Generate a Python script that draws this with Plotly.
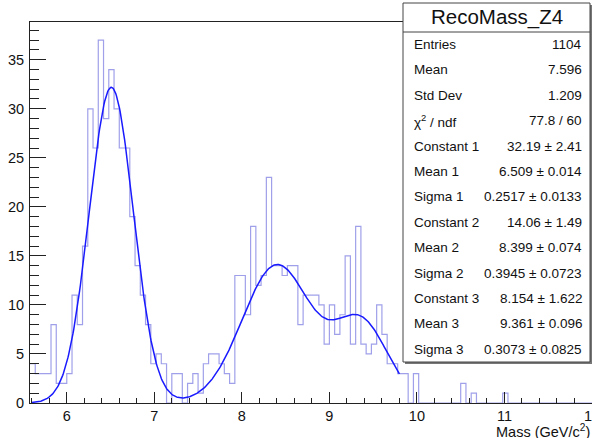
import numpy as np
import plotly.graph_objects as go

# Histogram: 0.06 GeV bins, shown from 5.58 to 12
bin_low = 5.58
bin_width = 0.06
counts = [
    4, 3, 3, 3, 8, 2, 2, 3, 11, 8,
    16, 30, 26, 37, 29, 34, 30, 26, 26, 19,
    14, 11, 8, 4, 5, 4, 0, 3, 3, 0,
    2, 3, 1, 4, 5, 5, 4, 3, 2, 13,
    13, 9, 18, 12, 13, 23, 14, 14, 13, 14,
    14, 8, 11, 11, 11, 10, 6, 10, 7, 9,
    15, 6, 18, 6, 5, 6, 10, 7, 4, 4,
    3, 3, 0, 3, 0, 0, 0, 0, 0, 0,
    0, 0, 2, 0, 1, 0, 0, 0, 0, 0,
    1, 0, 0, 0, 0, 0, 0, 0, 0, 0,
    0, 0, 0, 0, 0, 0, 0,
]

# Triple-Gaussian fit parameters (constant, mean, sigma)
g_const = [32.19, 14.06, 8.154]
g_mean = [6.509, 8.399, 9.361]
g_sigma = [0.2517, 0.3945, 0.3073]
fit_range = [5.6, 9.8]

stats_title = "RecoMass_Z4"
stats_labels = ["Entries", "Mean", "Std Dev", "χ<sup>2</sup> / ndf",
                "Constant 1", "Mean 1", "Sigma 1",
                "Constant 2", "Mean 2", "Sigma 2",
                "Constant 3", "Mean 3", "Sigma 3"]
stats_values = ["1104", "7.596", "1.209", "77.8 / 60",
                "32.19 ± 2.41", "6.509 ± 0.014", "0.2517 ± 0.0133",
                "14.06 ± 1.49", "8.399 ± 0.074", "0.3945 ± 0.0723",
                "8.154 ± 1.622", "9.361 ± 0.096", "0.3073 ± 0.0825"]

counts = np.array(counts, dtype=float)
edges = bin_low + bin_width * np.arange(len(counts) + 1)
step_x = np.append(edges[:-1], edges[-1])
step_y = np.append(counts, counts[-1])

fx = np.linspace(fit_range[0], fit_range[1], 500)
fy = np.zeros_like(fx)
for c, m, s in zip(g_const, g_mean, g_sigma):
    fy += c * np.exp(-0.5 * ((fx - m) / s) ** 2)

W, H = 592, 438
L, R, T, B = 30, 0, 22, 35
pw, ph = W - L - R, H - T - B
x_range = [edges[0], 12.0]
y_range = [0, 1.05 * counts.max()]

def px(xp):
    return (xp - L) / pw

def py(yp):
    return (H - B - yp) / ph

FONT = "Liberation Sans, Arial, Helvetica, sans-serif"

fig = go.Figure()
fig.add_trace(go.Scatter(
    x=step_x, y=step_y, mode="lines", line_shape="hv",
    line=dict(color="rgba(120,120,225,0.7)", width=1.2),
    hoverinfo="skip", showlegend=False,
))
fig.add_trace(go.Scatter(
    x=fx, y=fy, mode="lines",
    line=dict(color="#1a1aff", width=1.5),
    hoverinfo="skip", showlegend=False,
))

axis_common = dict(
    showline=True, linecolor="#222", linewidth=1, mirror=True,
    showgrid=False, zeroline=False, ticks="inside", tickcolor="#222",
    tickfont=dict(family=FONT, size=14.5, color="#111"),
)
fig.update_xaxes(range=x_range, tick0=6, dtick=1, ticklen=11, tickwidth=1,
                 minor=dict(dtick=0.2, tick0=6, ticklen=5.5, ticks="inside",
                            tickcolor="#222", showgrid=False),
                 **axis_common)
fig.update_yaxes(range=y_range, tick0=0, dtick=5, ticklen=16, tickwidth=1,
                 ticklabelstandoff=2,
                 minor=dict(dtick=1, tick0=0, ticklen=9, ticks="inside",
                            tickcolor="#222", showgrid=False),
                 **axis_common)

# Statistics box
bx0, bx1, by0, by1, bdiv = 403, 590, 3, 362, 32
shapes = [
    dict(type="rect", xref="paper", yref="paper",
         x0=px(bx0 + 2), x1=px(bx1 + 2), y0=py(by1 + 2), y1=py(by0 + 2),
         fillcolor="#777", line=dict(width=0)),
    dict(type="rect", xref="paper", yref="paper",
         x0=px(bx0), x1=px(bx1), y0=py(by1), y1=py(by0),
         fillcolor="white", line=dict(color="#444", width=1)),
    dict(type="line", xref="paper", yref="paper",
         x0=px(bx0), x1=px(bx1), y0=py(bdiv), y1=py(bdiv),
         line=dict(color="#444", width=1)),
]
annotations = [
    dict(xref="paper", yref="paper", x=px((bx0 + bx1) / 2), y=py(17),
         text=stats_title, showarrow=False, xanchor="center", yanchor="middle",
         font=dict(family=FONT, size=20.5, color="#111")),
]
row0, row_step = 44.5, 25.4
for i, (lab, val) in enumerate(zip(stats_labels, stats_values)):
    yc = row0 + i * row_step
    annotations.append(dict(xref="paper", yref="paper", x=px(412), y=py(yc),
                            text=lab, showarrow=False, xanchor="left", yanchor="middle",
                            font=dict(family=FONT, size=13.5, color="#111")))
    annotations.append(dict(xref="paper", yref="paper", x=px(584), y=py(yc),
                            text=val, showarrow=False, xanchor="right", yanchor="middle",
                            font=dict(family=FONT, size=13.5, color="#111")))

# Last x tick label sits on the canvas edge
annotations.append(dict(xref="paper", yref="paper", x=px(592), y=py(416),
                        text="12", showarrow=False, xanchor="center", yanchor="middle",
                        font=dict(family=FONT, size=14.5, color="#111")))
annotations.append(dict(xref="paper", yref="paper", x=px(592), y=py(431),
                        text="Mass (GeV/c<sup>2</sup>)", showarrow=False,
                        xanchor="right", yanchor="middle",
                        font=dict(family=FONT, size=14.5, color="#111")))

fig.update_layout(
    width=W, height=H, margin=dict(l=L, r=R, t=T, b=B),
    paper_bgcolor="white", plot_bgcolor="white",
    shapes=shapes, annotations=annotations, showlegend=False,
)

fig.write_html("out.html")
